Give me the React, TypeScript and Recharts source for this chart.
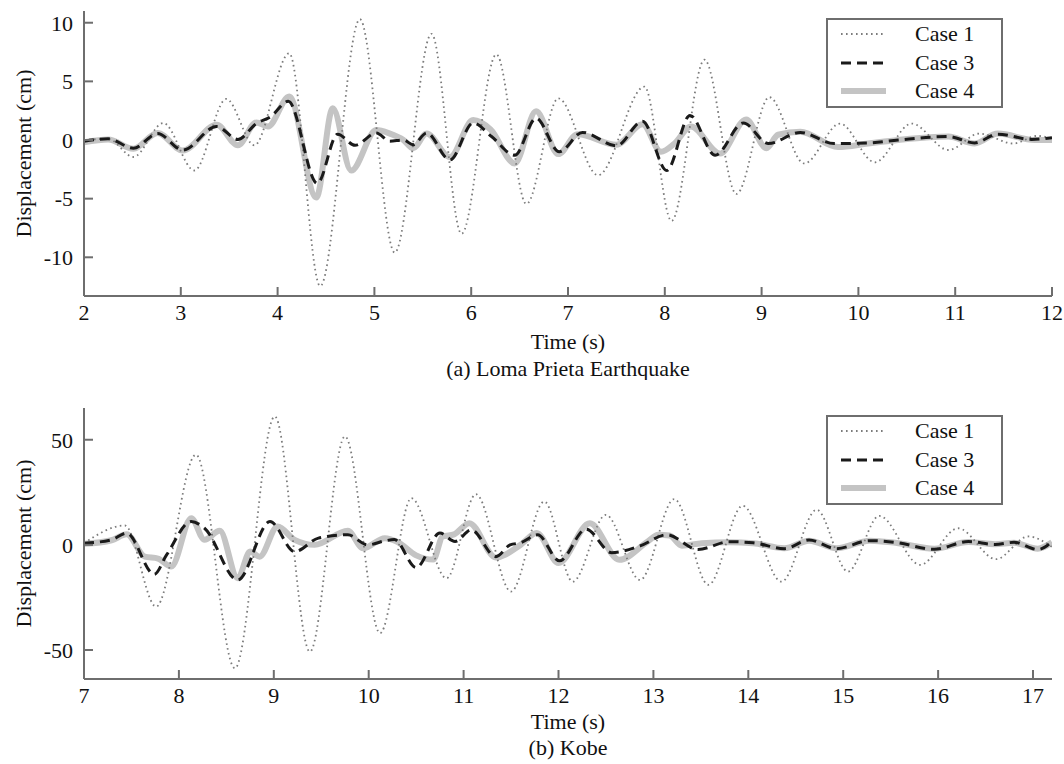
import { Label, Legend, Line, LineChart, XAxis, YAxis } from "recharts";

// [time (s), displacement (cm)]
const lomaCase1: [number, number][] = [
    [2.0, 0], [2.25, 0.1], [2.51, -1.45], [2.82, 1.45], [3.14, -2.6], [3.47, 3.5], [3.76, -0.45],
    [4.12, 7.4], [4.44, -12.45], [4.85, 10.3], [5.21, -9.6], [5.59, 9.05], [5.9, -8.0], [6.26, 7.3],
    [6.57, -5.45], [6.9, 3.55], [7.31, -3.0], [7.79, 4.55], [8.07, -6.9], [8.41, 6.85], [8.74, -4.6],
    [9.08, 3.65], [9.44, -2.0], [9.81, 1.4], [10.17, -1.9], [10.55, 1.4], [10.93, -0.85], [11.25, 0.55],
    [11.6, -0.3], [11.85, 0.35], [12.0, 0.1],
];
const lomaCase3: [number, number][] = [
    [2.0, -0.1], [2.25, 0.1], [2.51, -0.7], [2.76, 0.55], [3.02, -0.85], [3.37, 1.15], [3.59, 0.05],
    [3.78, 1.4], [3.93, 2.0], [4.11, 3.3], [4.41, -3.7], [4.62, 0.5], [4.8, -0.45], [5.02, 0.6],
    [5.16, -0.1], [5.3, 0.0], [5.4, -0.4], [5.54, 0.6], [5.78, -1.7], [6.02, 1.45], [6.21, 0.3],
    [6.45, -1.3], [6.67, 1.85], [6.91, -1.0], [7.15, 0.65], [7.5, -0.5], [7.77, 1.6], [8.02, -2.6],
    [8.26, 2.1], [8.52, -1.3], [8.81, 1.45], [9.07, -0.3], [9.4, 0.65], [9.75, -0.3], [10.1, -0.25],
    [10.41, 0.0], [10.93, 0.3], [11.2, -0.25], [11.44, 0.5], [11.79, 0.05], [12.0, 0.2],
];
const lomaCase4: [number, number][] = [
    [2.0, -0.2], [2.25, 0.05], [2.51, -0.75], [2.76, 0.6], [3.02, -0.9], [3.37, 1.3], [3.59, -0.45],
    [3.78, 1.5], [3.9, 1.15], [4.12, 3.7], [4.4, -4.9], [4.57, 2.7], [4.76, -2.6], [5.02, 0.85],
    [5.16, 0.55], [5.3, 0.0], [5.4, -0.7], [5.54, 0.55], [5.78, -1.45], [6.02, 1.7], [6.2, 0.9],
    [6.45, -2.0], [6.67, 2.45], [6.9, -1.2], [7.1, 0.5], [7.5, -0.4], [7.77, 1.35], [7.96, -1.0],
    [8.1, -0.3], [8.27, 1.15], [8.57, -1.15], [8.84, 1.75], [9.05, -0.7], [9.17, 0.45], [9.4, 0.7],
    [9.79, -0.6], [10.1, -0.3], [10.41, 0.0], [10.93, 0.3], [11.2, -0.3], [11.44, 0.55], [11.82, 0.0],
    [12.0, 0.0],
];

const kobeCase1: [number, number][] = [
    [7.0, 0.8], [7.43, 9.2], [7.76, -29.4], [8.18, 42.9], [8.59, -58.7], [9.01, 61.1], [9.38, -50.8],
    [9.75, 51.6], [10.12, -42], [10.45, 22.2], [10.82, -15.9], [11.13, 24.1], [11.5, -22.2],
    [11.85, 20.6], [12.15, -17.5], [12.5, 14.3], [12.86, -16.7], [13.22, 21.8], [13.58, -19],
    [13.94, 18.6], [14.35, -17.5], [14.72, 16.7], [15.05, -12.7], [15.38, 13.8], [15.81, -9.5],
    [16.21, 7.9], [16.61, -6.8], [16.95, 4.0], [17.2, -1],
];
const kobeCase3: [number, number][] = [
    [7.0, 0.8], [7.29, 2.4], [7.45, 5.6], [7.74, -14], [7.87, -4.8], [8.13, 11.1], [8.27, 7.9],
    [8.62, -16.7], [8.96, 11.1], [9.22, -3.2], [9.47, 3.2], [9.78, 4.8], [9.99, 0], [10.17, 1.9],
    [10.27, 2.5], [10.5, -10.8], [10.75, 5.6], [10.91, 1.6], [11.08, 7.1], [11.34, -5.6], [11.49, 0],
    [11.6, 1], [11.78, 4.8], [12.01, -7.6], [12.29, 7.5], [12.56, -3.7], [12.86, -0.5], [13.14, 4.8],
    [13.47, -2.2], [13.8, 1.5], [14.05, 1.0], [14.38, -1.8], [14.64, 2.3], [14.93, -1.8], [15.28, 2.0],
    [15.55, 1.2], [15.96, -2.1], [16.32, 1.6], [16.6, 0.2], [16.8, 1.2], [17.05, -2.2], [17.2, 1.5],
];
const kobeCase4: [number, number][] = [
    [7.0, 0.5], [7.29, 2.2], [7.45, 5], [7.64, -5.6], [7.78, -6.5], [7.92, -10.3], [8.13, 12.7],
    [8.27, 2.4], [8.43, 6.7], [8.62, -15.9], [8.75, -3.2], [8.85, -5.6], [9.04, 8.7], [9.22, 2.4],
    [9.43, 0], [9.78, 6.7], [9.94, -1.6], [10.17, 3.2], [10.3, 1.5], [10.5, -5], [10.68, -7],
    [10.78, 4], [10.9, 5], [11.06, 10.3], [11.34, -6], [11.6, 0], [11.77, 5.6], [12.0, -8.6],
    [12.33, 10.3], [12.64, -7.1], [12.94, 1.6], [13.05, 4.8], [13.17, 4.5], [13.3, -0.4], [13.51, 0.8],
    [13.8, 1.2], [14.05, 0.8], [14.38, -1.6], [14.64, 2.0], [14.93, -1.6], [15.28, 2.0], [15.55, 1.0],
    [15.96, -1.8], [16.32, 1.4], [16.6, 0.3], [16.8, 1.0], [17.05, -1.8], [17.2, 1.2],
];

const lomaTimeTicks = [2, 3, 4, 5, 6, 7, 8, 9, 10, 11, 12];
const lomaDispTicks = [-10, -5, 0, 5, 10];
const kobeTimeTicks = [7, 8, 9, 10, 11, 12, 13, 14, 15, 16, 17];
const kobeDispTicks = [-50, 0, 50];

const FONT = '"Liberation Serif", "Times New Roman", serif';
const FONT_SIZE = 22;
const FRAME = "#6e6e6e";

const styles = {
    case1: { stroke: "#7c7c7c", strokeWidth: 1.8, strokeDasharray: "1.6 3.4" },
    case3: { stroke: "#1a1a1a", strokeWidth: 3, strokeDasharray: "10 6" },
    case4: { stroke: "#c4c4c4", strokeWidth: 6, strokeDasharray: undefined },
};

const toPoints = (rows: [number, number][]) => rows.map(([t, v]) => ({ t, v }));

function LegendBox() {
    const items = [
        { name: "Case 1", s: styles.case1 },
        { name: "Case 3", s: styles.case3 },
        { name: "Case 4", s: styles.case4 },
    ];
    return (
        <div style={{ width: 177, height: 90, border: `2px solid ${FRAME}`, boxSizing: "border-box", background: "#fff" }}>
            {items.map(it => (
                <div key={it.name} style={{ display: "flex", alignItems: "center", height: 28.5 }}>
                    <svg width={45} height={10} style={{ marginLeft: 13 }}>
                        <line x1={0} x2={45} y1={5} y2={5} stroke={it.s.stroke}
                            strokeWidth={it.s.strokeWidth} strokeDasharray={it.s.strokeDasharray} />
                    </svg>
                    <span style={{ marginLeft: 29, fontFamily: FONT, fontSize: FONT_SIZE, color: "#111", lineHeight: 1 }}>{it.name}</span>
                </div>
            ))}
        </div>
    );
}

function YTitle(props: any) {
    const vb = props.viewBox;
    const cx = vb.x - 1;
    const cy = vb.y + vb.height / 2;
    return (
        <text x={cx} y={cy} transform={`rotate(-90 ${cx} ${cy})`} textAnchor="middle" dominantBaseline="central"
            fontFamily={FONT} fontSize={FONT_SIZE} fill="#111">Displacement (cm)</text>
    );
}

function Panel(props: IProps) {
    const tickStyle = { fill: "#111", fontSize: FONT_SIZE, fontFamily: FONT };
    const axisLine = { stroke: FRAME, strokeWidth: 2 };
    const tickLine = { stroke: FRAME, strokeWidth: 2 };
    const labelStyle = { fontFamily: FONT, fontSize: FONT_SIZE, fill: "#111" };
    return (
        <LineChart width={1064} height={props.height} margin={{ top: props.top, right: 12, left: 24, bottom: 0 }}>
            <XAxis xAxisId="b" dataKey="t" type="number" domain={props.xDomain} ticks={props.xTicks}
                allowDataOverflow height={props.xAxisHeight} tickSize={-9} tickMargin={17}
                axisLine={axisLine} tickLine={tickLine} tick={tickStyle} interval={0}>
                <Label value="Time (s)" position="insideTop" offset={props.titleOffset} style={labelStyle} />
                <Label value={props.caption} position="insideTop" offset={props.captionOffset} style={labelStyle} />
            </XAxis>
            <XAxis xAxisId="t" orientation="top" dataKey="t" type="number" domain={props.xDomain} ticks={props.xTicks}
                allowDataOverflow height={0} tickSize={-9} tickFormatter={() => ""}
                axisLine={axisLine} tickLine={tickLine} interval={0} />
            <YAxis yAxisId="l" type="number" domain={props.yDomain} ticks={props.yTicks} allowDataOverflow
                width={60} tickSize={-9} tickMargin={20} axisLine={axisLine} tickLine={tickLine} tick={tickStyle} interval={0}>
                <Label content={YTitle} />
            </YAxis>
            <YAxis yAxisId="r" orientation="right" type="number" domain={props.yDomain} ticks={props.yTicks}
                allowDataOverflow width={0} tickSize={-9} tickFormatter={() => ""}
                axisLine={axisLine} tickLine={tickLine} interval={0} />
            <Legend layout="vertical" align="center" verticalAlign="middle" content={() => <LegendBox />}
                wrapperStyle={{ top: props.top + 7, left: 826, width: 177, height: 90 }} />
            <Line xAxisId="b" yAxisId="l" data={toPoints(props.case4)} dataKey="v" name="Case 4" type="monotone"
                dot={false} activeDot={false} isAnimationActive={false} {...styles.case4} strokeLinejoin="round" />
            <Line xAxisId="b" yAxisId="l" data={toPoints(props.case1)} dataKey="v" name="Case 1" type="monotone"
                dot={false} activeDot={false} isAnimationActive={false} {...styles.case1} />
            <Line xAxisId="b" yAxisId="l" data={toPoints(props.case3)} dataKey="v" name="Case 3" type="monotone"
                dot={false} activeDot={false} isAnimationActive={false} {...styles.case3} />
        </LineChart>
    );
}

export default function App() {
    return (
        <div style={{ position: "absolute", left: 0, top: 0, width: 1064, height: 764, background: "#fff" }}>
            <div style={{ position: "absolute", left: 0, top: 0 }}>
                <Panel height={380} top={11} xAxisHeight={84} xDomain={[2, 12]} xTicks={lomaTimeTicks}
                    yDomain={[-13.3, 11]} yTicks={lomaDispTicks} caption="(a) Loma Prieta Earthquake"
                    titleOffset={37} captionOffset={64}
                    case1={lomaCase1} case3={lomaCase3} case4={lomaCase4} />
            </div>
            <div style={{ position: "absolute", left: 0, top: 390 }}>
                <Panel height={374} top={18} xAxisHeight={85} xDomain={[7, 17.2]} xTicks={kobeTimeTicks}
                    yDomain={[-63.8, 65.1]} yTicks={kobeDispTicks} caption="(b) Kobe"
                    titleOffset={34} captionOffset={60}
                    case1={kobeCase1} case3={kobeCase3} case4={kobeCase4} />
            </div>
        </div>
    );
}

interface IProps {
    height: number;
    top: number;
    xAxisHeight: number;
    xDomain: [number, number];
    xTicks: number[];
    yDomain: [number, number];
    yTicks: number[];
    caption: string;
    titleOffset: number;
    captionOffset: number;
    case1: [number, number][];
    case3: [number, number][];
    case4: [number, number][];
}
